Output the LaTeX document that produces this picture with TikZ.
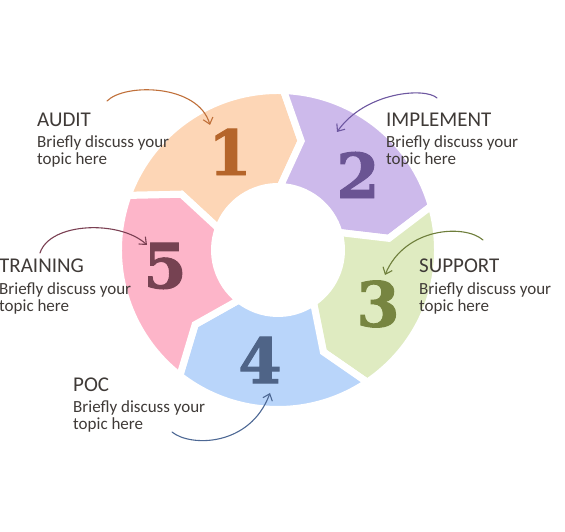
\documentclass[tikz,border=0pt]{standalone}
\usepackage{fontspec}
\setmainfont{Carlito}
\newfontfamily\numfont[FakeBold=1.6]{DejaVu Serif}
\usetikzlibrary{arrows.meta}
\definecolor{c1}{HTML}{FDD6B6}
\definecolor{c2}{HTML}{CDBAEB}
\definecolor{c3}{HTML}{DFEBC1}
\definecolor{c4}{HTML}{B9D5FA}
\definecolor{c5}{HTML}{FDB5C9}
\definecolor{n1}{HTML}{B5652A}
\definecolor{n2}{HTML}{6A5493}
\definecolor{n3}{HTML}{778541}
\definecolor{n4}{HTML}{4F6487}
\definecolor{n5}{HTML}{764252}
\definecolor{a1}{HTML}{C0703A}
\definecolor{a2}{HTML}{6D57A0}
\definecolor{a3}{HTML}{6E7E3B}
\definecolor{a4}{HTML}{4D6894}
\definecolor{a5}{HTML}{7A3F52}
\definecolor{txt}{HTML}{3F3A37}
\begin{document}
\begin{tikzpicture}[x=1pt,y=1pt,
  seg/.style={draw=white, line width=7pt, line join=miter},
  ttl/.style={anchor=base west, inner sep=0pt, font=\fontsize{21}{21}\selectfont, text=txt},
  bodytxt/.style={anchor=base west, inner sep=0pt, font=\fontsize{17}{17}\selectfont, text=txt},
  num/.style={font=\numfont\bfseries\fontsize{62}{62}\selectfont, inner sep=0pt},
  arr/.style={line width=1.1pt, line cap=round, -{Straight Barb[length=6pt,width=10pt]}}]
\useasboundingbox (0,0) rectangle (565,532);
\begin{scope}[shift={(278,282)}]
\foreach \a/\col in {160/c1, 88/c2, 16/c3, -56/c4, -128/c5} {
  \pgfmathsetmacro\b{\a-72}
  \path[seg, fill=\col] (\a:159.5) arc[start angle=\a, end angle=\b, radius=159.5]
    -- (\b-10:111.5) -- (\b:63.5) arc[start angle=\b, end angle=\a, radius=63.5]
    -- (\a-10:111.5) -- cycle;
}
\end{scope}
% numbers
\node[num, text=n1] (num1) at (230,380) {1};
\node[num, text=n2] (num2) at (358,357) {2};
\node[num, text=n3] (num3) at (378,228) {3};
\node[num, text=n4] (num4) at (260,172) {4};
\node[num, text=n5] (num5) at (165,266) {5};
% texts
\node[ttl] (t1) at (37,405) {AUDIT};
\node[bodytxt] (b1a) at (37,384) {Briefly discuss your};
\node[bodytxt] (b1b) at (37,367) {topic here};
\node[ttl] (t2) at (386,405) {IMPLEMENT};
\node[bodytxt] (b2a) at (386,384) {Briefly discuss your};
\node[bodytxt] (b2b) at (386,367) {topic here};
\node[ttl] (t3) at (419,259) {SUPPORT};
\node[bodytxt] (b3a) at (419,237) {Briefly discuss your};
\node[bodytxt] (b3b) at (419,220) {topic here};
\node[ttl] (t5) at (-1,259) {TRAINING};
\node[bodytxt] (b5a) at (-1,237) {Briefly discuss your};
\node[bodytxt] (b5b) at (-1,220) {topic here};
\node[ttl] (t4) at (73,140) {POC};
\node[bodytxt] (b4a) at (73,119) {Briefly discuss your};
\node[bodytxt] (b4b) at (73,102) {topic here};
% arrows
\coordinate (s1) at (107,431); \coordinate (e1) at (210,407);
\coordinate (s2) at (437,434); \coordinate (e2) at (337,400);
\coordinate (s3) at (483,292); \coordinate (e3) at (385,257);
\coordinate (s4) at (172,100); \coordinate (e4) at (270,139);
\coordinate (s5) at (40,279);  \coordinate (e5) at (147,287);
\draw[arr, a1] (s1) .. controls (125,449) and (198,448) .. (e1);
\draw[arr, a2] (s2) .. controls (425,445) and (365,440) .. (e2);
\draw[arr, a3] (s3) .. controls (465,308) and (405,305) .. (e3);
\draw[arr, a4] (s4) .. controls (190,85) and (250,85) .. (e4);
\draw[arr, a5] (s5) .. controls (50,310) and (120,312) .. (e5);
\end{tikzpicture}
\end{document}
